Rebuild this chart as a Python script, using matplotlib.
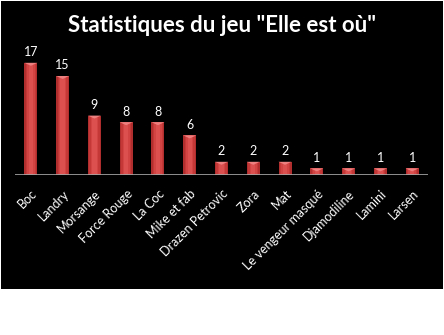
import numpy as np
import matplotlib
matplotlib.use("Agg")
import matplotlib.pyplot as plt
from matplotlib.patches import Rectangle, Polygon

# data
names = ["Boc", "Landry", "Morsange", "Force Rouge", "La Coc", "Mike et fab",
         "Drazen Petrovic", "Zora", "Mat", "Le vengeur masqué", "Djamodiline",
         "Lamini", "Larsen"]
counts = [17, 15, 9, 8, 8, 6, 2, 2, 2, 1, 1, 1, 1]
title = 'Statistiques du jeu "Elle est où"'

plt.rcParams['font.family'] = ['Lato', 'DejaVu Sans']

fig = plt.figure(figsize=(4.44, 3.35), dpi=100, facecolor="white")
# black chart area
fig.patches.append(Rectangle((1/444, 46/335), 442/444, 288/335,
                             transform=fig.transFigure, facecolor="black",
                             edgecolor="none", zorder=-5))

ax = fig.add_axes([15/444, 160/335, 413/444, 132/335])
ax.set_facecolor("none")
ax.set_zorder(2)
x = np.arange(len(names))
w = 0.41

# bar body with a soft horizontal gradient
shades = ["#b02e2e", "#c43838", "#d24343", "#dc5050"]
for i, c in enumerate(shades):
    f = 1 - i * 0.22
    ax.bar(x, counts, width=w * f, color=c, zorder=2 + i)

# lighter cap at the top of each bar
for xi, v in zip(x, counts):
    cap = min(0.45, v * 0.5)
    ax.add_patch(Polygon([(xi - w/2, v), (xi + w/2, v), (xi, v - cap)],
                         closed=True, facecolor="#ee8080", edgecolor="none",
                         zorder=7))
    ax.text(xi, v + 0.7, str(v), ha="center", va="bottom", color="white",
            fontsize=9, zorder=8)

ax.axhline(0, color="#a8a8a8", lw=1.2, zorder=9)
ax.set_xlim(-0.5, len(names) - 0.5)
ax.set_ylim(0, 20)
ax.set_yticks([])
ax.set_xticks(x)
ax.set_xticklabels(names, rotation=45, ha="right", rotation_mode="anchor",
                   color="white", fontsize=9)
ax.tick_params(axis="x", length=0, pad=9)
for s in ax.spines.values():
    s.set_visible(False)

fig.text(222/444, 1 - 26/335, title, ha="center", va="center",
         color="white", fontsize=16, fontweight="bold")

fig.savefig("out.png", dpi=100, facecolor=fig.get_facecolor())
